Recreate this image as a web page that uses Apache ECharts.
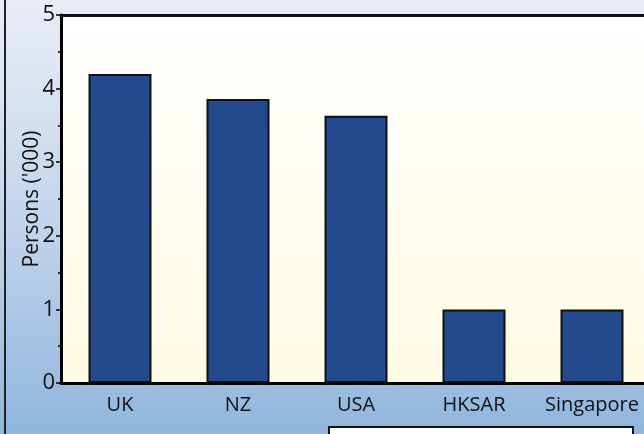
<!DOCTYPE html>
<html>
<head>
<meta charset="utf-8">
<script src="https://cdn.jsdelivr.net/npm/echarts@6/dist/echarts.min.js"></script>
<style>
  html, body { margin: 0; padding: 0; }
  #chart { width: 644px; height: 434px; }
</style>
</head>
<body>
<div id="chart"></div>
<script>
const categories = ['UK', 'NZ', 'USA', 'HKSAR', 'Singapore'];
const persons = [4.2, 3.86, 3.63, 1.0, 1.0];
const yTicks = [0, 1, 2, 3, 4, 5];

const FONT = 'Open Sans';
const chart = echarts.init(document.getElementById('chart'));

chart.setOption({
  animation: false,
  backgroundColor: {
    type: 'linear', x: 0, y: 0, x2: 0, y2: 1,
    colorStops: [
      { offset: 0, color: '#e9edf7' },
      { offset: 0.5, color: '#c3d5ec' },
      { offset: 1, color: '#90b6dd' }
    ]
  },
  graphic: [
    { type: 'line', shape: { x1: 5, y1: 0, x2: 5, y2: 434 },
      style: { stroke: '#222', lineWidth: 2 } },
    { type: 'rect', shape: { x: 329, y: 427, width: 304, height: 20 },
      style: { fill: '#ffffff', stroke: '#111', lineWidth: 2 } }
  ],
  grid: {
    left: 61, top: 15, height: 368, width: 590,
    outerBoundsMode: 'none',
    containLabel: false,
    show: true, borderWidth: 0,
    backgroundColor: {
      type: 'linear', x: 0, y: 0, x2: 0, y2: 1,
      colorStops: [
        { offset: 0, color: '#ffffff' },
        { offset: 1, color: '#fffbe3' }
      ]
    }
  },
  xAxis: [{
    type: 'category',
    data: categories,
    axisLine: { lineStyle: { color: '#000', width: 3 } },
    axisTick: { show: false },
    axisLabel: { interval: 0, hideOverlap: false, color: '#111', fontFamily: FONT, fontSize: 20, margin: 12 }
  }, {
    type: 'category',
    position: 'top',
    data: categories,
    axisLine: { lineStyle: { color: '#111', width: 3 } },
    axisTick: { show: false },
    axisLabel: { show: false }
  }],
  yAxis: {
    type: 'value',
    min: yTicks[0], max: yTicks[yTicks.length - 1], interval: 1,
    name: "Persons ('000)",
    nameLocation: 'middle',
    nameGap: 18,
    nameMoveOverlap: false,
    nameTextStyle: { color: '#111', fontFamily: FONT, fontSize: 21 },
    axisLine: { show: true, lineStyle: { color: '#000', width: 3 } },
    axisTick: { show: true, length: 5, lineStyle: { color: '#000', width: 1.5 } },
    minorTick: { show: true, splitNumber: 2, length: 3, lineStyle: { color: '#000', width: 1.5 } },
    splitLine: { show: false },
    axisLabel: { color: '#111', fontFamily: FONT, fontSize: 22, margin: 6 }
  },
  series: [{
    type: 'bar',
    data: persons,
    barWidth: 63,
    itemStyle: { color: '#234a8c', borderColor: '#111', borderWidth: 2 }
  }]
});
</script>
</body>
</html>
